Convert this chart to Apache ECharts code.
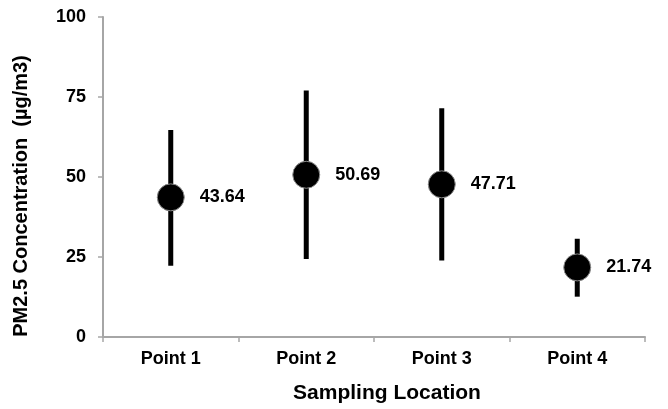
<!DOCTYPE html>
<html>
<head>
<meta charset="utf-8">
<script src="https://cdn.jsdelivr.net/npm/echarts@6/dist/echarts.min.js"></script>
<style>
  html, body { margin: 0; padding: 0; background: #fff; }
  #chart { width: 668px; height: 409px; }
</style>
</head>
<body>
<div id="chart"></div>
<script>
var locations = ['Point 1', 'Point 2', 'Point 3', 'Point 4'];
var means = [43.64, 50.69, 47.71, 21.74];
var lows = [22.3, 24.4, 23.9, 12.6];
var highs = [64.7, 77.0, 71.5, 30.7];

var font = 'Liberation Sans, Arial, sans-serif';
var axisGray = '#a6a6a6';

var barData = [];
for (var i = 0; i < locations.length; i++) {
    barData.push([i, lows[i], highs[i]]);
}

var myEcharts = echarts.init(document.getElementById('chart'));
var option = {
    animation: false,
    grid: { left: 103, right: 23, top: 17, bottom: 72 },
    xAxis: {
        type: 'category',
        data: locations,
        name: 'Sampling Location',
        nameLocation: 'middle',
        nameGap: 46,
        nameTextStyle: { fontFamily: font, fontWeight: 'bold', fontSize: 21, color: '#000', padding: [0, 0, 0, 26] },
        axisLine: { lineStyle: { color: axisGray, width: 2 } },
        axisTick: { show: true, length: 5, lineStyle: { color: axisGray, width: 1.5 } },
        axisLabel: { fontFamily: font, fontWeight: 'bold', fontSize: 18, color: '#000', margin: 13 }
    },
    yAxis: {
        type: 'value',
        min: 0,
        max: 100,
        interval: 25,
        name: 'PM2.5 Concentration  (µg/m3)',
        nameLocation: 'middle',
        nameGap: 72,
        nameTextStyle: { fontFamily: font, fontWeight: 'bold', fontSize: 20, color: '#000', padding: [0, 38, 0, 0] },
        axisLine: { show: true, lineStyle: { color: axisGray, width: 2 } },
        axisTick: { show: true, length: 5, lineStyle: { color: axisGray, width: 1.5 } },
        splitLine: { show: false },
        axisLabel: { fontFamily: font, fontWeight: 'bold', fontSize: 18, color: '#000', margin: 17 }
    },
    series: [
        {
            // vertical range bars
            type: 'custom',
            data: barData,
            renderItem: function (params, api) {
                var top = api.coord([api.value(0), api.value(2)]);
                var bottom = api.coord([api.value(0), api.value(1)]);
                return {
                    type: 'line',
                    shape: { x1: top[0], y1: top[1], x2: bottom[0], y2: bottom[1] },
                    style: { stroke: '#000', lineWidth: 5 }
                };
            },
            z: 1
        },
        {
            type: 'scatter',
            data: means,
            symbol: 'circle',
            symbolSize: 27,
            itemStyle: { color: '#000', borderColor: '#8c8c8c', borderWidth: 1, opacity: 1 },
            label: {
                show: true,
                position: 'right',
                distance: 15,
                formatter: function (p) { return p.value.toFixed(2); },
                fontFamily: font,
                fontWeight: 'bold',
                fontSize: 18,
                color: '#000'
            },
            z: 2
        }
    ]
};
myEcharts.setOption(option);
</script>
</body>
</html>
